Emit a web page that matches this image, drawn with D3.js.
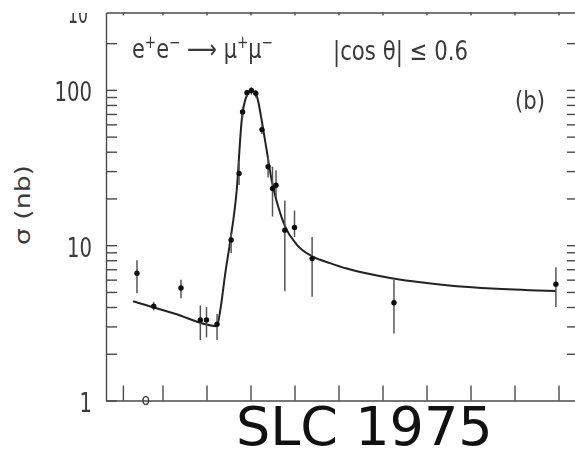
<!DOCTYPE html>
<html>
<head>
<meta charset="utf-8">
<script src="https://cdn.jsdelivr.net/npm/d3@7"></script>
<style>
	body { margin: 0; background: #fff; }
	svg { display: block; }
	.axis path, .axis line { stroke: #4a4a4a; stroke-width: 1.4; }
	.lab { font-family: "DejaVu Sans", "Liberation Sans", sans-serif; fill: #3a3a3a; }
</style>
</head>
<body>
<div id="chart"></div>
<script>
//Data: c.m. energy (MeV) and cross section (nb)
var energy = [3092.1, 3094.0, 3097.1, 3099.3, 3100.0, 3101.2, 3102.8, 3103.7, 3104.1, 3104.6, 3105.1,
	3105.6, 3106.3, 3107.0, 3107.5, 3107.9, 3108.9, 3110.0, 3112.0, 3121.3, 3139.7];
var sigma = [6.6, 4.05, 5.3, 3.3, 3.3, 3.1, 10.8, 29, 72, 96, 99, 95, 55.5, 32, 23.2, 24.3, 12.5, 13.0, 8.2, 4.26, 5.6];
var sigmaLo = [4.9, 3.8, 4.55, 2.45, 2.55, 2.45, 8.9, 24.4, 66, 90, 93, 89, 52, 27.3, 15.3, 20.4, 5.05, 11.3, 4.65, 2.7, 4.0];
var sigmaHi = [8.0, 4.3, 6.0, 4.1, 4.0, 3.6, 12.0, 35, 78, 100, 104, 100, 59, 36.6, 32, 30.4, 19.4, 16.7, 11.3, 5.96, 7.2];

//point sitting on the bottom axis
var lowE = [3093.1];
var lowSigma = [1.0];

//fitted curve
var fitE = [3091.65, 3096.42, 3101.16, 3101.65, 3102.10, 3102.67, 3103.43, 3104.0, 3104.57, 3105.11, 3105.70,
	3106.27, 3106.84, 3107.41, 3108.16, 3108.92, 3110.25, 3112.14, 3114.03, 3115.93, 3121.23, 3127.30, 3132.98, 3139.72];
var fitSigma = [4.36, 3.62, 3.01, 4.1, 6.4, 10.4, 22.5, 63.7, 91.8, 100, 91.7,
	63.7, 40.8, 26.1, 17.6, 13.2, 10.1, 8.4, 7.67, 7.07, 6.1, 5.53, 5.25, 5.08];

var yTicks = [2, 3, 4, 5, 6, 7, 8, 9, 10, 20, 30, 40, 50, 60, 70, 80, 90, 100, 200];
var yLabels = { 1: "1", 10: "10", 100: "100" };
var xTicks = [3090.5, 3095, 3100, 3105, 3110, 3115, 3120, 3125, 3130, 3135, 3140];

//SVG setup
var margin = { top: 12.5, right: -2, bottom: 48.5, left: 106 };
var W = 575, H = 449;
var width = W - margin.left - margin.right;
var height = H - margin.top - margin.bottom;

var root = d3.select("#chart").append("svg")
	.attr("width", W)
	.attr("height", H);

var defs = root.append("defs");
defs.append("filter").attr("id", "scan")
	.append("feGaussianBlur").attr("stdDeviation", 0.55);
defs.append("clipPath").attr("id", "cut")
	.append("rect").attr("x", 0).attr("y", 13).attr("width", W).attr("height", H);

var svg = root.append("g")
	.attr("filter", "url(#scan)")
	.append("g")
	.attr("transform", "translate(" + margin.left + "," + margin.top + ")");

//Scales
var x = d3.scaleLinear().domain([3088.58, 3142.1]).range([0, width]);
var y = d3.scaleLog().domain([1, 315]).range([height, 0]);

//Axes
svg.append("g")
	.attr("class", "axis")
	.call(d3.axisLeft(y).tickValues([1].concat(yTicks)).tickSizeInner(-11).tickSizeOuter(0).tickPadding(14)
		.tickFormat(function(d) { return yLabels[d] || ""; }))
	.selectAll("text")
	.attr("class", "lab")
	.attr("font-size", 27)
	.attr("dy", "0.4em")
	.each(function(d) {
		if (yLabels[d]) d3.select(this).attr("textLength", yLabels[d].length * 12.5).attr("lengthAdjust", "spacingAndGlyphs");
	});

svg.append("g")
	.attr("class", "axis")
	.attr("transform", "translate(" + width + ",0)")
	.call(d3.axisRight(y).tickValues(yTicks).tickSizeInner(-10).tickSizeOuter(0).tickFormat(""));

svg.append("g")
	.attr("class", "axis")
	.attr("transform", "translate(0," + height + ")")
	.call(d3.axisBottom(x).tickValues(xTicks).tickSizeInner(-15).tickSizeOuter(0).tickFormat(""));

svg.append("g")
	.attr("class", "axis")
	.call(d3.axisTop(x).tickValues(xTicks).tickSizeInner(-3).tickSizeOuter(0).tickFormat(""));

//Fitted curve
svg.append("path")
	.datum(fitE.map(function(e, i) { return [e, fitSigma[i]]; }))
	.attr("fill", "none")
	.attr("stroke", "#222")
	.attr("stroke-width", 2)
	.attr("d", d3.line()
		.x(function(d) { return x(d[0]); })
		.y(function(d) { return y(d[1]); })
		.curve(d3.curveMonotoneX));

//Error bars
var pts = energy.map(function(e, i) { return { e: e, s: sigma[i], lo: sigmaLo[i], hi: sigmaHi[i] }; });
svg.selectAll(".err")
	.data(pts)
	.enter()
	.append("line")
	.attr("class", "err")
	.attr("x1", function(d) { return x(d.e); })
	.attr("x2", function(d) { return x(d.e); })
	.attr("y1", function(d) { return y(d.lo); })
	.attr("y2", function(d) { return y(d.hi); })
	.attr("stroke", "#555")
	.attr("stroke-width", 1.5);

//Points
svg.selectAll(".pt")
	.data(pts)
	.enter()
	.append("circle")
	.attr("class", "pt")
	.attr("cx", function(d) { return x(d.e); })
	.attr("cy", function(d) { return y(d.s); })
	.attr("r", 2.7)
	.attr("fill", "#111");

svg.selectAll(".low")
	.data(lowE)
	.enter()
	.append("ellipse")
	.attr("cx", function(d) { return x(d); })
	.attr("cy", function(d, i) { return y(lowSigma[i]); })
	.attr("rx", 2.8)
	.attr("ry", 4)
	.attr("fill", "none")
	.attr("stroke", "#444")
	.attr("stroke-width", 1.6);

//Labels
var reaction = root.append("text")
	.attr("class", "lab")
	.attr("x", 132)
	.attr("y", 58)
	.attr("font-size", 26)
	.attr("textLength", 141)
	.attr("lengthAdjust", "spacingAndGlyphs");
[["e", 0], ["+", -10], ["e", 10], ["\u2212", -10], [" \u27F6 ", 10], ["\u03BC", 0], ["+", -10], ["\u03BC", 10], ["\u2212", -10]]
	.forEach(function(p) {
		reaction.append("tspan")
			.attr("dy", p[1])
			.attr("font-size", (p[0] === "+" || p[0] === "\u2212") ? 17 : 26)
			.text(p[0]);
	});

root.append("text")
	.attr("class", "lab")
	.attr("x", 333)
	.attr("y", 60)
	.attr("font-size", 27)
	.attr("textLength", 135)
	.attr("lengthAdjust", "spacingAndGlyphs")
	.text("|cos \u03B8| \u2264 0.6");

root.append("text")
	.attr("class", "lab")
	.attr("x", 515)
	.attr("y", 109)
	.attr("font-size", 25)
	.attr("textLength", 30)
	.attr("lengthAdjust", "spacingAndGlyphs")
	.text("(b)");

root.append("text")
	.attr("class", "lab")
	.attr("transform", "translate(30,205) rotate(-90)")
	.attr("text-anchor", "middle")
	.attr("font-size", 21)
	.attr("textLength", 80)
	.attr("lengthAdjust", "spacingAndGlyphs")
	.text("\u03C3 (nb)");

//label of the panel above, cut by the frame
root.append("text")
	.attr("class", "lab")
	.attr("clip-path", "url(#cut)")
	.attr("x", 88)
	.attr("y", 23)
	.attr("text-anchor", "end")
	.attr("font-size", 27)
	.attr("textLength", 20)
	.attr("lengthAdjust", "spacingAndGlyphs")
	.text("10");

root.append("text")
	.attr("x", 236)
	.attr("y", 445)
	.attr("font-family", "DejaVu Sans, sans-serif")
	.attr("font-size", 54)
	.attr("fill", "#111")
	.text("SLC 1975");
</script>
</body>
</html>
